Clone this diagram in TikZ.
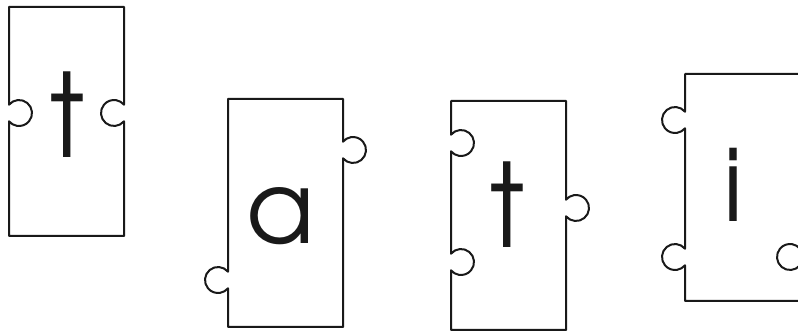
\documentclass[tikz,border=0pt]{standalone}
\usepackage{fontspec}
\setmainfont{TeX Gyre Adventor}
\tikzset{
    piece/.style={draw=black!90, line width=2pt, line join=round},
    glyph/.style={anchor=base, inner sep=0pt, text=black!90,
        font=\fontsize{100}{100}\selectfont}
}
% knobs: radius 13, centre 10 off the edge
\newcommand{\tabL}[2]{-- (#1,#2+8.3) arc[start angle=39.7,end angle=320.3,radius=13]}
\newcommand{\sockL}[2]{-- (#1,#2+8.3) arc[start angle=140.3,end angle=-140.3,radius=13]}
\newcommand{\tabR}[2]{-- (#1,#2-8.3) arc[start angle=-140.3,end angle=140.3,radius=13]}
\newcommand{\sockR}[2]{-- (#1,#2-8.3) arc[start angle=-39.7,end angle=-320.3,radius=13]}
\newcommand{\tallt}{\scalebox{1}[1.16]{t}}

\begin{document}
\begin{tikzpicture}[x=1pt,y=1pt]
		\useasboundingbox (0,0) rectangle (798,332);

		% Piece t: sockets both sides
		\draw[piece] (9,325) \sockL{9}{219} -- (9,96) -- (124,96) \sockR{124}{219} -- (124,325) -- cycle;
		\node[glyph] (letT1) at (67,174) {\tallt};

		% Piece a: tabs both sides
		\draw[piece] (228,233) \tabL{228}{52} -- (228,5) -- (343,5) \tabR{343}{182} -- (343,233) -- cycle;
		\node[glyph] (letA) at (281,88) {a};

		% Piece t: two sockets left, tab right
		\draw[piece] (451,231) \sockL{451}{189} \sockL{451}{70} -- (451,2) -- (566,2) \tabR{566}{124} -- (566,231) -- cycle;
		\node[glyph] (letT2) at (507,84) {\tallt};

		% Piece i: two tabs left, socket right (cut by the page)
		\draw[piece] (685,258) \tabL{685}{212} \tabL{685}{75} -- (685,31) -- (800,31) \sockR{800}{75} -- (800,258) -- cycle;
		\node[glyph] (letI) at (733,110) {i};

	\end{tikzpicture}
\end{document}
